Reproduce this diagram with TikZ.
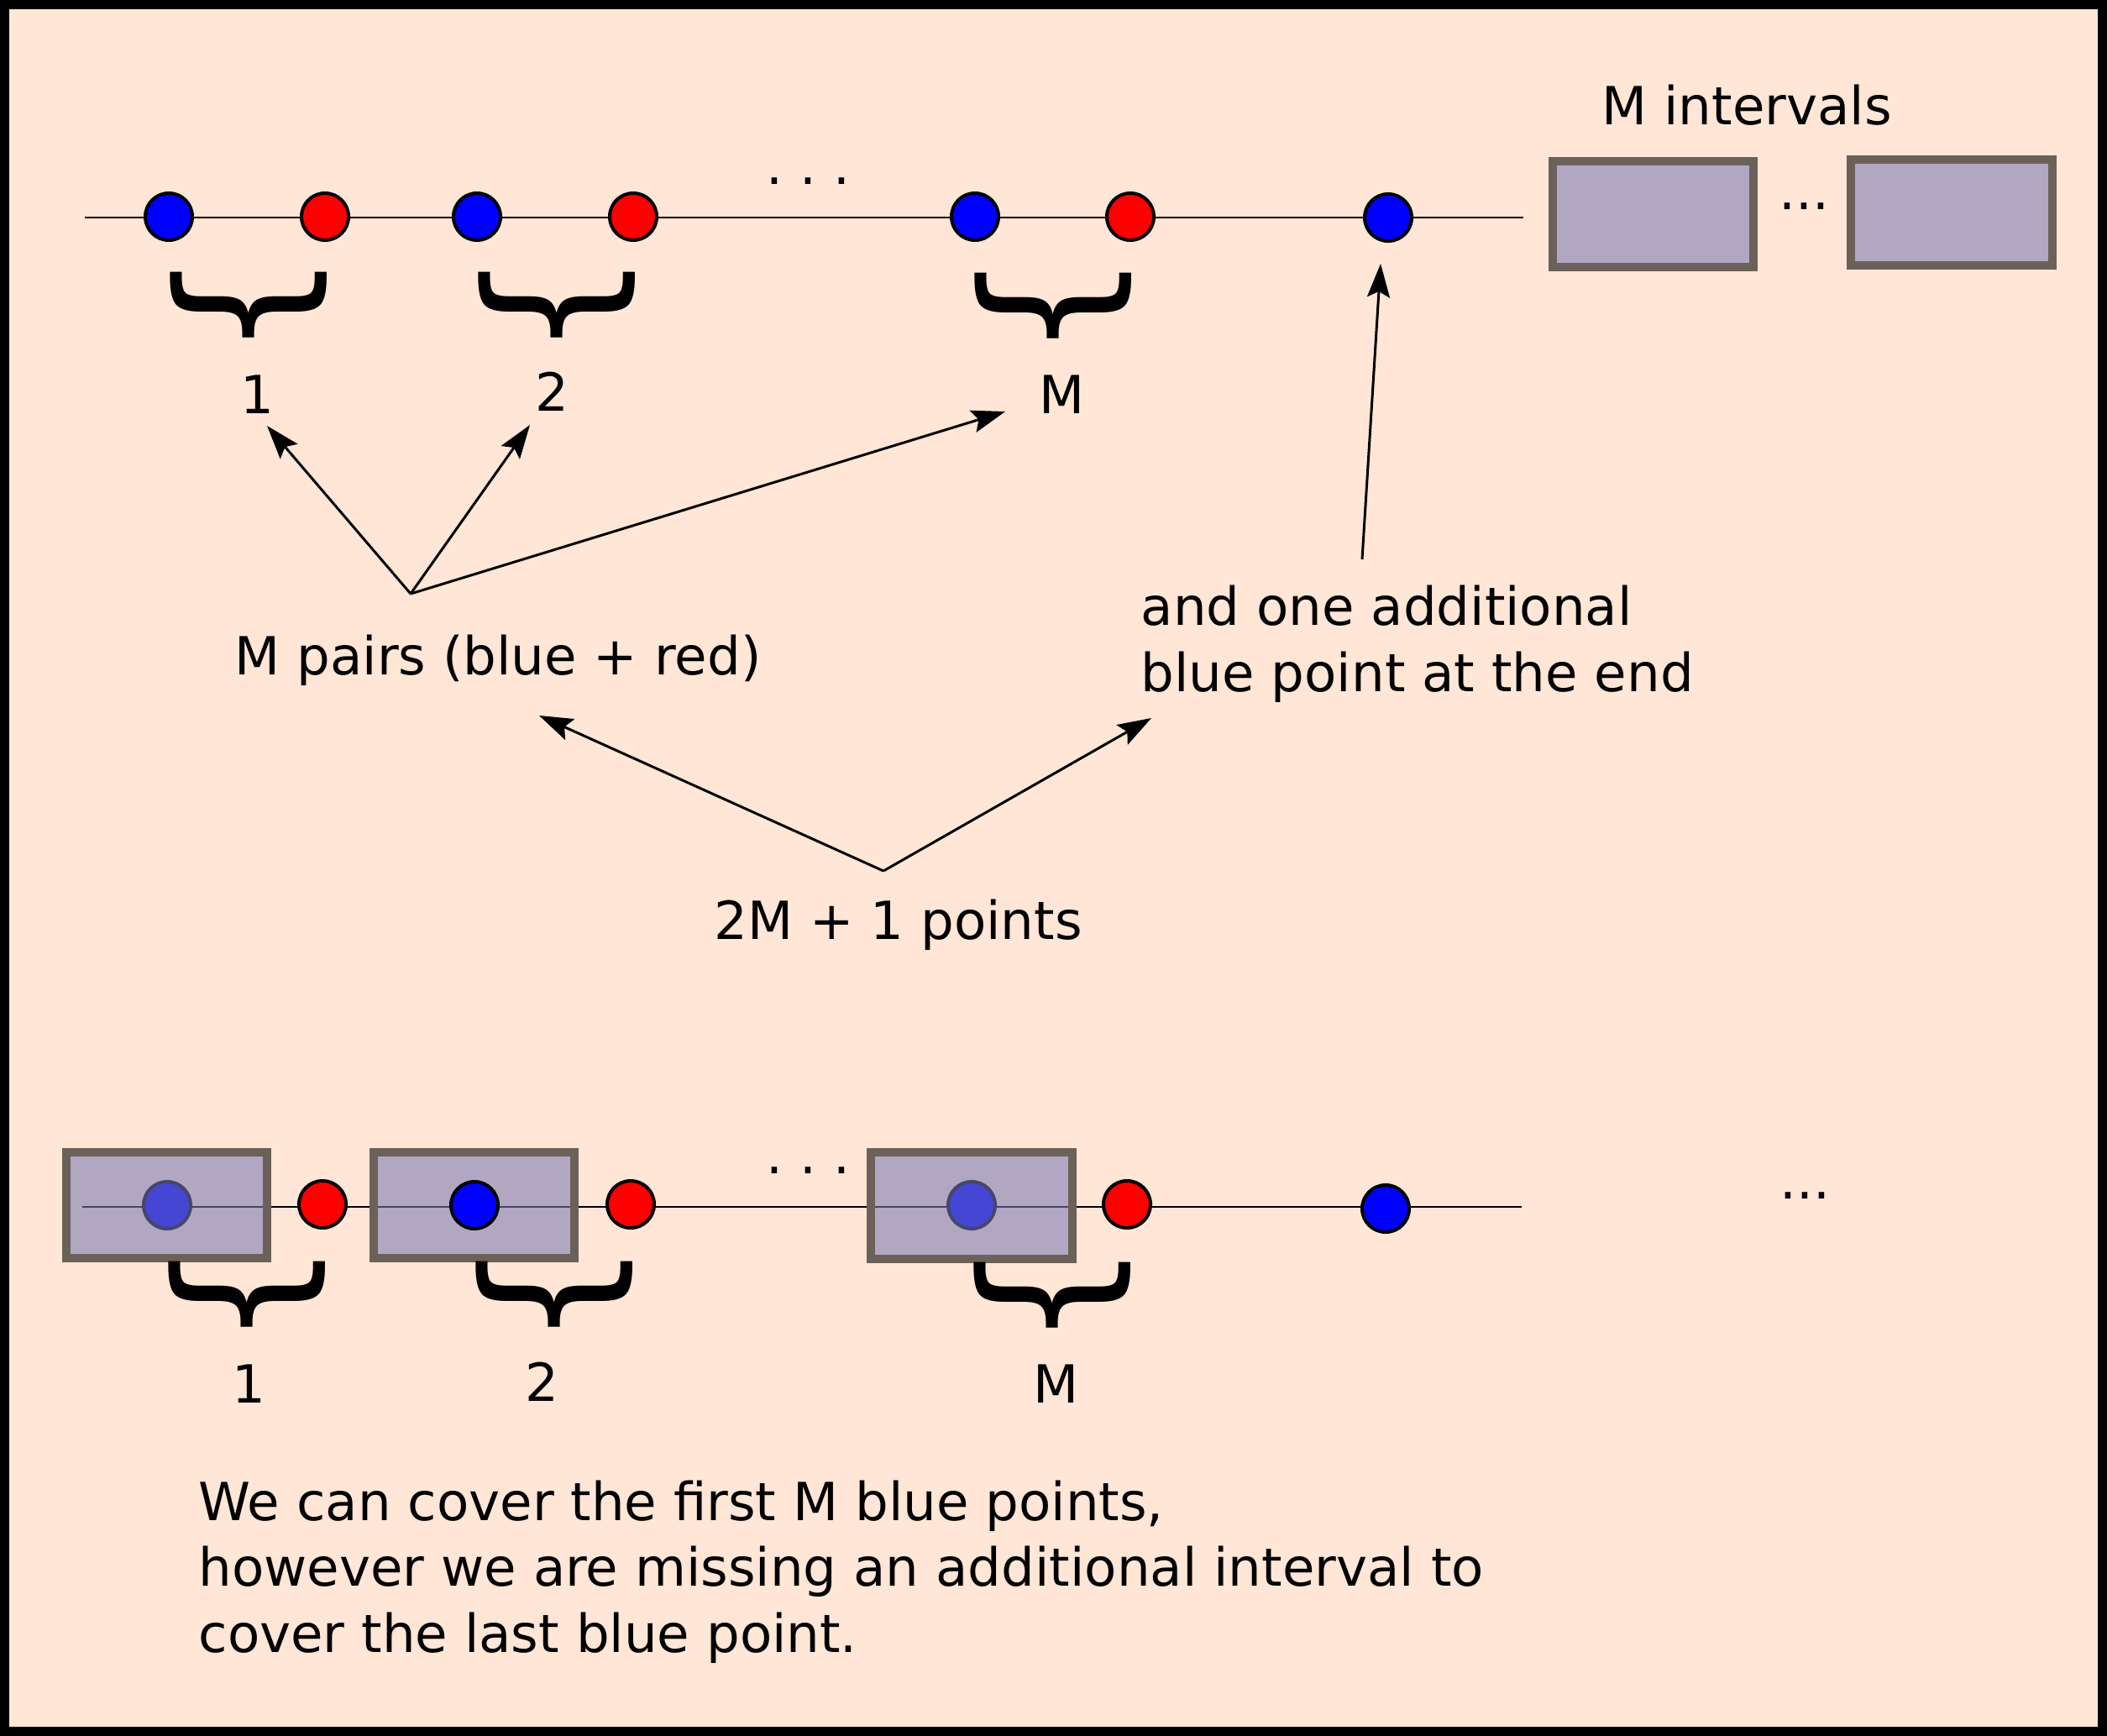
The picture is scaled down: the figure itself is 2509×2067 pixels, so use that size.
\documentclass[tikz,border=0pt]{standalone}
\usepackage{fontspec}
\setmainfont{DejaVu Sans}
\usetikzlibrary{arrows.meta}
\definecolor{peach}{RGB}{255,230,214}
\definecolor{boxfill}{RGB}{121,122,181}
\definecolor{boxedge}{RGB}{107,97,88}

\begin{document}
\begin{tikzpicture}[x=0.01cm,y=-0.01cm,
	font=\fontsize{17.8pt}{22.2pt}\selectfont,
	txt/.style={inner sep=0pt,anchor=base west},
	num/.style={inner sep=0pt,anchor=base},
	bluept/.style={circle,draw=black,line width=0.04cm,fill=blue,minimum size=0.56cm,inner sep=0pt},
	redpt/.style={bluept,fill=red},
	interval/.style={draw=boxedge,line width=0.1cm,fill=boxfill,fill opacity=0.58,minimum width=2.39cm,minimum height=1.26cm,inner sep=0pt},
	pairbrace/.style={inner sep=0pt,rotate=90,font=\fontsize{57.5pt}{60pt}\selectfont},
	arr/.style={-{Stealth[length=0.4cm,width=0.27cm,inset=0.07cm]},line width=0.03cm},
	axis/.style={line width=0.027cm}]
	\useasboundingbox (0,0) rectangle (2509,2067);
	\draw[line width=0.11cm,fill=peach] (5.5,5.5) rectangle (2503.5,2061.5);
	
	% upper row
	\coordinate (ua) at (101,259);
	\coordinate (ub) at (1814,259);
	\draw[axis] (ua)--(ub);
	\node[bluept] (ub1) at (201,258) {};
	\node[redpt] (ur1) at (387,258) {};
	\node[bluept] (ub2) at (568,258) {};
	\node[redpt] (ur2) at (754,258) {};
	\node[bluept] (ubm) at (1161,258) {};
	\node[redpt] (urm) at (1346,258) {};
	\node[bluept] (ulast) at (1653,259) {};
	\node[txt] (udots) at (912,220) {.\ .\ .};
	\node[interval] (iv1) at (1968.5,255) {};
	\node[interval] (iv2) at (2324,253) {};
	\node[txt] (ivdots) at (2118,250) {...};
	\node[txt] (mint) at (1907,149) {M intervals};
	\node[pairbrace] (ubr1) at (296.5,363) {\{};
	\node[pairbrace] (ubr2) at (663.5,363) {\{};
	\node[pairbrace] (ubrm) at (1254,364) {\{};
	\node[num] (ul1) at (306,492) {1};
	\node[num] (ul2) at (657,490) {2};
	\node[num] (ulm) at (1264,492) {M};
	
	% labels and arrows
	\node[txt] (pairs) at (279,803) {M pairs (blue + red)};
	\node[txt,align=left] (extra) at (1358,823) {and one additional\\blue point at the end};
	\node[txt] (total) at (850,1118) {2M + 1 points};
	\coordinate (pfork) at (489,707);
	\coordinate (ptip1) at (318,507);
	\coordinate (ptip2) at (631,506);
	\coordinate (ptipm) at (1197,490);
	\draw[arr] (pfork)--(ptip1);
	\draw[arr] (pfork)--(ptip2);
	\draw[arr] (pfork)--(ptipm);
	\coordinate (efoot) at (1622,666);
	\coordinate (etip) at (1644,314);
	\draw[arr] (efoot)--(etip);
	\coordinate (tfork) at (1052,1037);
	\coordinate (ttipa) at (642,852);
	\coordinate (ttipb) at (1371,855);
	\draw[arr] (tfork)--(ttipa);
	\draw[arr] (tfork)--(ttipb);
	
	% lower row
	\coordinate (la) at (98,1437);
	\coordinate (lb) at (1812,1437);
	\draw[axis] (la)--(lb);
	\node[interval] (lv2) at (564.5,1435) {};
	\node[bluept] (lb1) at (199,1435) {};
	\node[redpt] (lr1) at (384,1434) {};
	\node[bluept] (lb2) at (565,1435) {};
	\node[redpt] (lr2) at (751,1434) {};
	\node[bluept] (lbm) at (1157,1435) {};
	\node[redpt] (lrm) at (1342,1434) {};
	\node[bluept] (llast) at (1650,1439) {};
	\node[interval] (lv1) at (198.5,1435) {};
	\node[interval] (lvm) at (1157,1435.5) {};
	\node[txt] (ldots) at (912,1397) {.\ .\ .};
	\node[txt] (lrdots) at (2119,1427) {...};
	\node[pairbrace] (lbr1) at (294,1541) {\{};
	\node[pairbrace] (lbr2) at (660.5,1541) {\{};
	\node[pairbrace] (lbrm) at (1253,1542) {\{};
	\node[num] (ll1) at (296,1670) {1};
	\node[num] (ll2) at (645,1668) {2};
	\node[num] (llm) at (1257,1670) {M};
	
	\node[txt,align=left] (note) at (236,1967) {We can cover the first M blue points,\\however we are missing an additional interval to\\cover the last blue point.};
\end{tikzpicture}
\end{document}
